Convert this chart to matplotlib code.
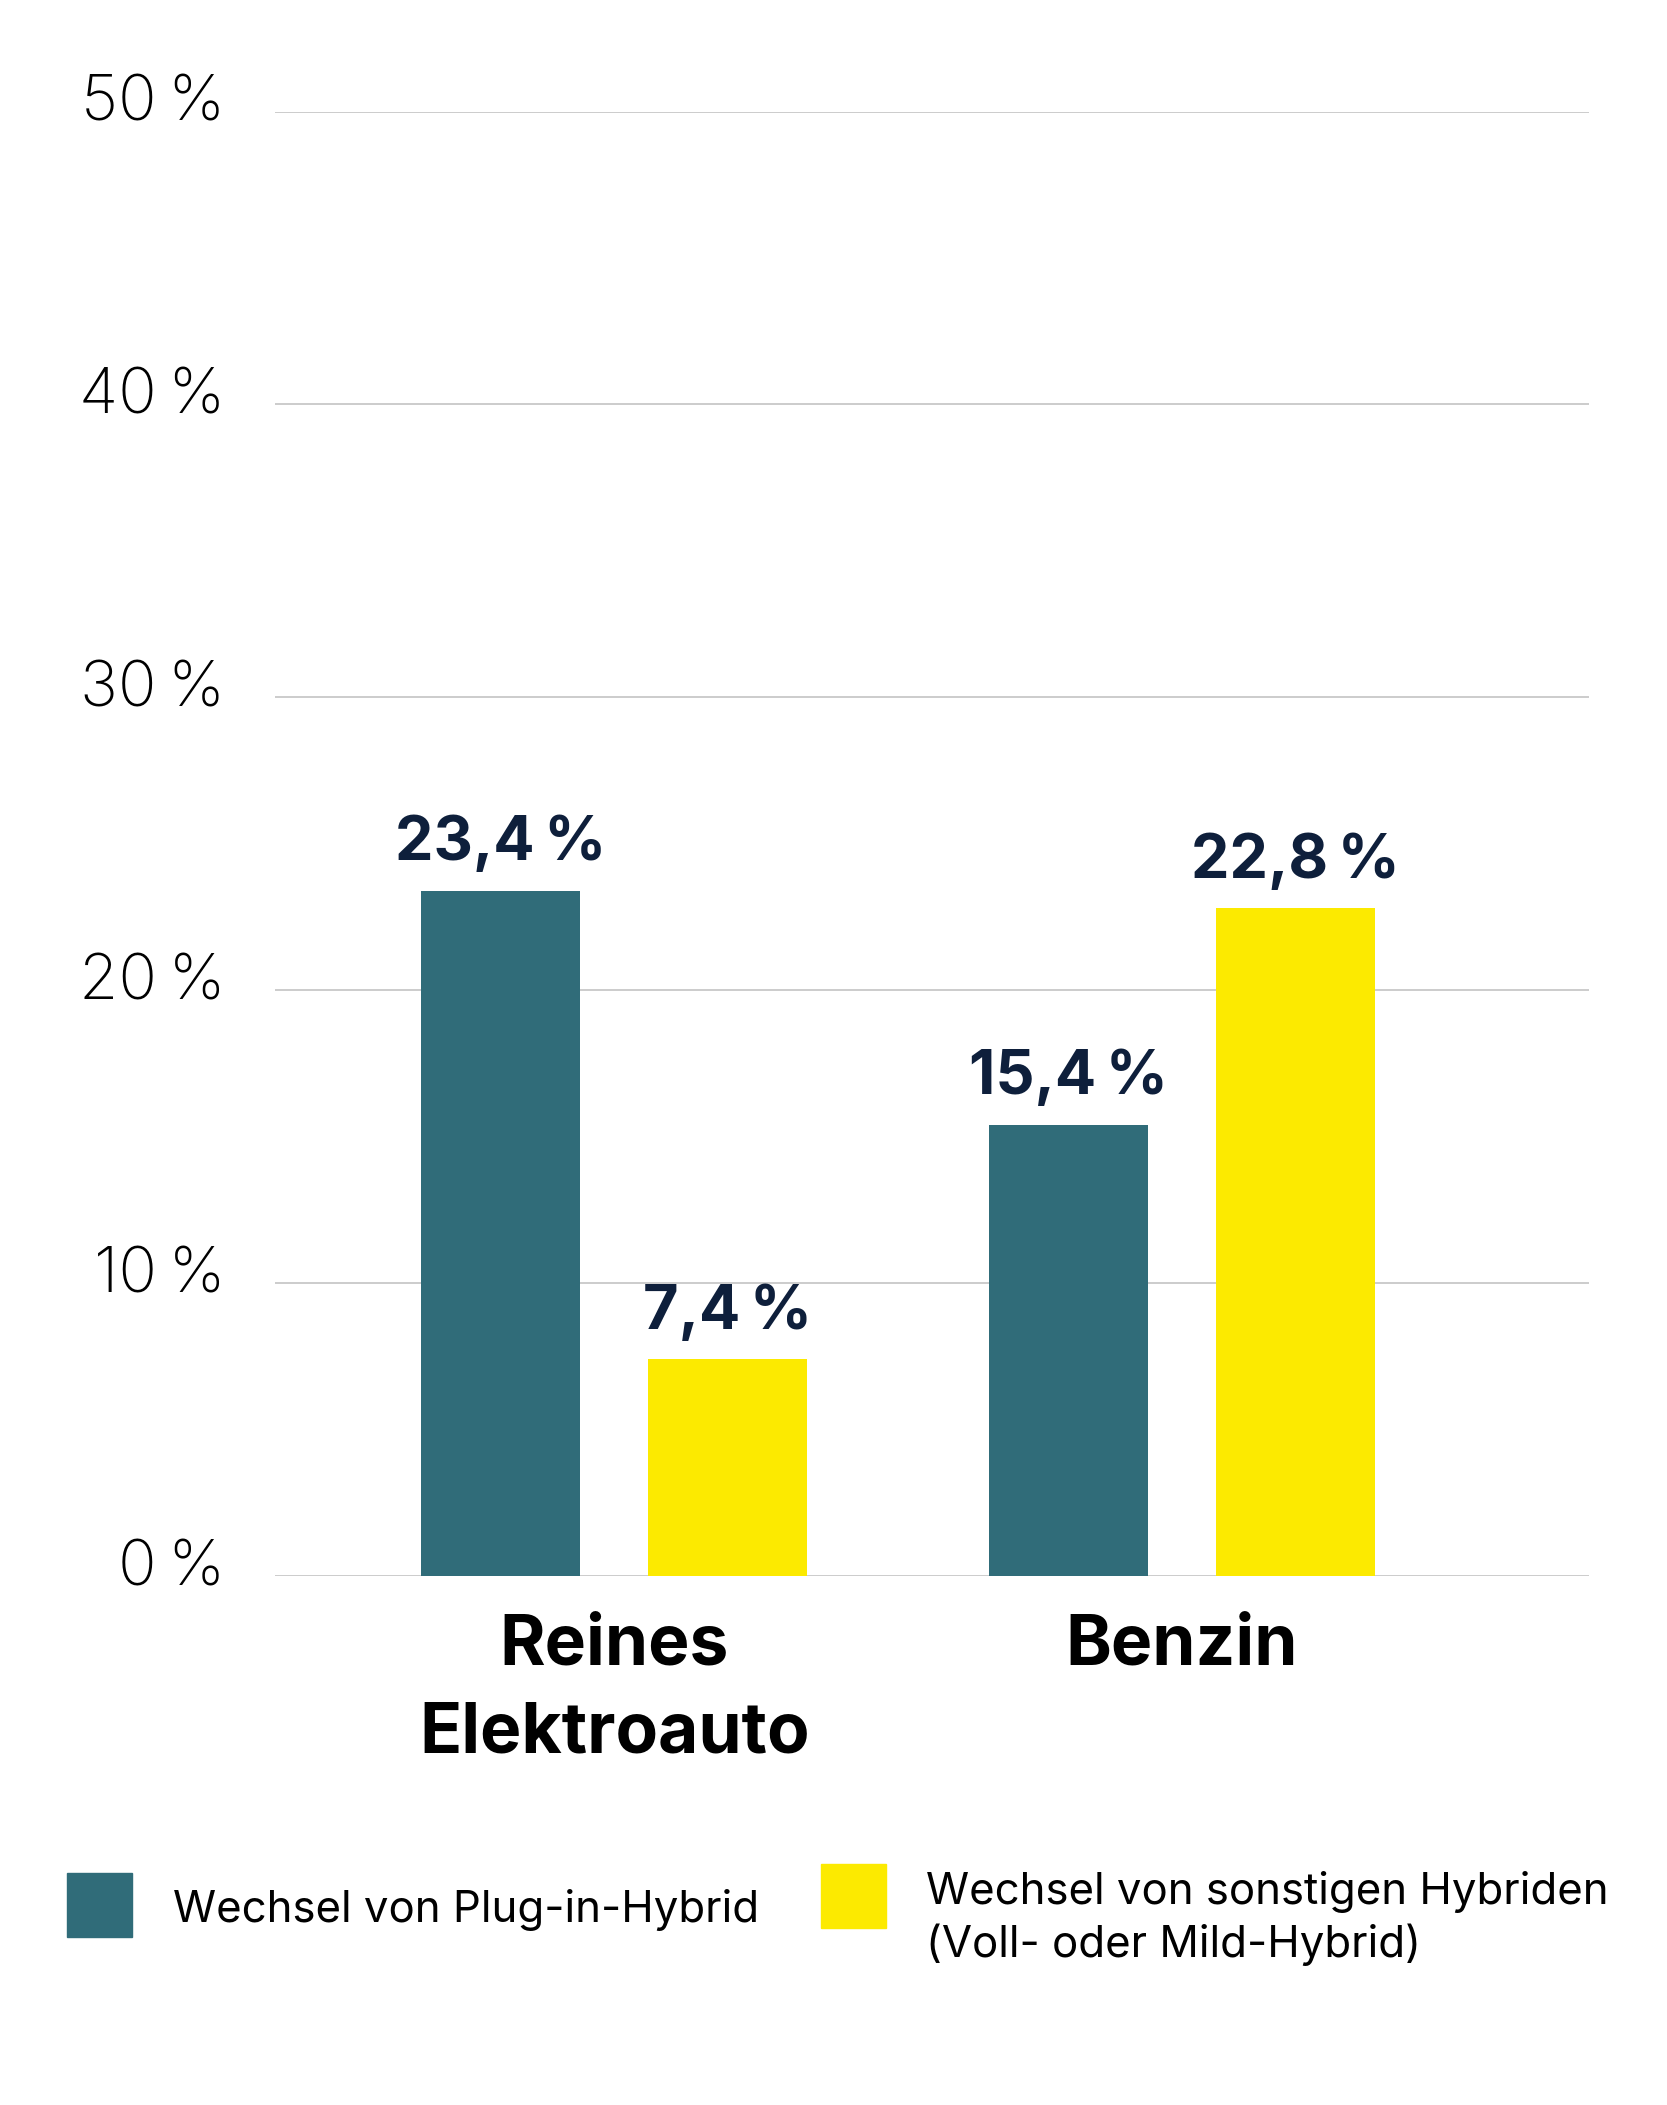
import matplotlib
matplotlib.use("Agg")
import numpy as np
import matplotlib.pyplot as plt
from matplotlib.patches import Rectangle
from matplotlib.transforms import ScaledTranslation

kategorien = ["Reines\nElektroauto", "Benzin"]
plug_in = [23.4, 15.4]
sonstige = [7.4, 22.8]
y_ticks = [0, 10, 20, 30, 40, 50]
y_labels = ["0\u2009%", "10\u2009%", "20\u2009%", "30\u2009%", "40\u2009%", "50\u2009%"]
legende = ["Wechsel von Plug-in-Hybrid",
           "Wechsel von sonstigen Hybriden\n(Voll- oder Mild-Hybrid)"]

TEAL = "#306c79"
GELB = "#fcea00"
NAVY = "#0e1f3b"
SCHRIFT = "Inter"


def fmt(v):
    return f"{v:.1f}".replace(".", ",") + "\u2009%"


def main():
    fig = plt.figure(figsize=(16.67, 21.05), dpi=100)
    ax = fig.add_axes([0.165, 0.2513, 0.788, 0.6957])

    x = np.arange(len(kategorien))
    breite = 0.28
    versatz = 0.2

    b1 = ax.bar(x - versatz, plug_in, width=breite, color=TEAL, zorder=3)
    b2 = ax.bar(x + versatz, sonstige, width=breite, color=GELB, zorder=3)

    for balken, werte in ((b1, plug_in), (b2, sonstige)):
        for r, v in zip(balken, werte):
            ax.text(r.get_x() + r.get_width() / 2, v + 0.6, fmt(v),
                    ha="center", va="bottom", fontsize=44, fontweight="bold",
                    color=NAVY, family=SCHRIFT)

    ax.set_xlim(-0.598, 1.717)
    ax.set_ylim(0, 50)
    ax.set_yticks(y_ticks)
    ax.set_yticklabels(y_labels, fontsize=46, fontweight="light",
                       family=SCHRIFT)
    ax.set_xticks(x)
    ax.set_xticklabels(kategorien, fontsize=50, fontweight="bold",
                       family=SCHRIFT, linespacing=1.45)
    ax.tick_params(axis="y", length=0, pad=36)
    ax.tick_params(axis="x", length=0, pad=27)
    hoch = ScaledTranslation(0, 10 / 72, fig.dpi_scale_trans)
    for lab in ax.get_yticklabels():
        lab.set_transform(lab.get_transform() + hoch)
    ax.grid(axis="y", color="#c8c8c8", linewidth=1.3, zorder=0)
    for s in ax.spines.values():
        s.set_visible(False)

    # Legende
    fig.patches.append(Rectangle((0.040, 0.0797), 0.039, 0.0304,
                                 transform=fig.transFigure, color=TEAL))
    fig.text(0.104, 0.0924, legende[0], fontsize=31.5, va="center",
             family=SCHRIFT)
    fig.patches.append(Rectangle((0.4927, 0.0841), 0.039, 0.0304,
                                 transform=fig.transFigure, color=GELB))
    fig.text(0.5552, 0.0887, legende[1], fontsize=31.5, va="center",
             family=SCHRIFT, linespacing=1.3)

    fig.savefig("out.png", dpi=100)


if __name__ == "__main__":
    main()
